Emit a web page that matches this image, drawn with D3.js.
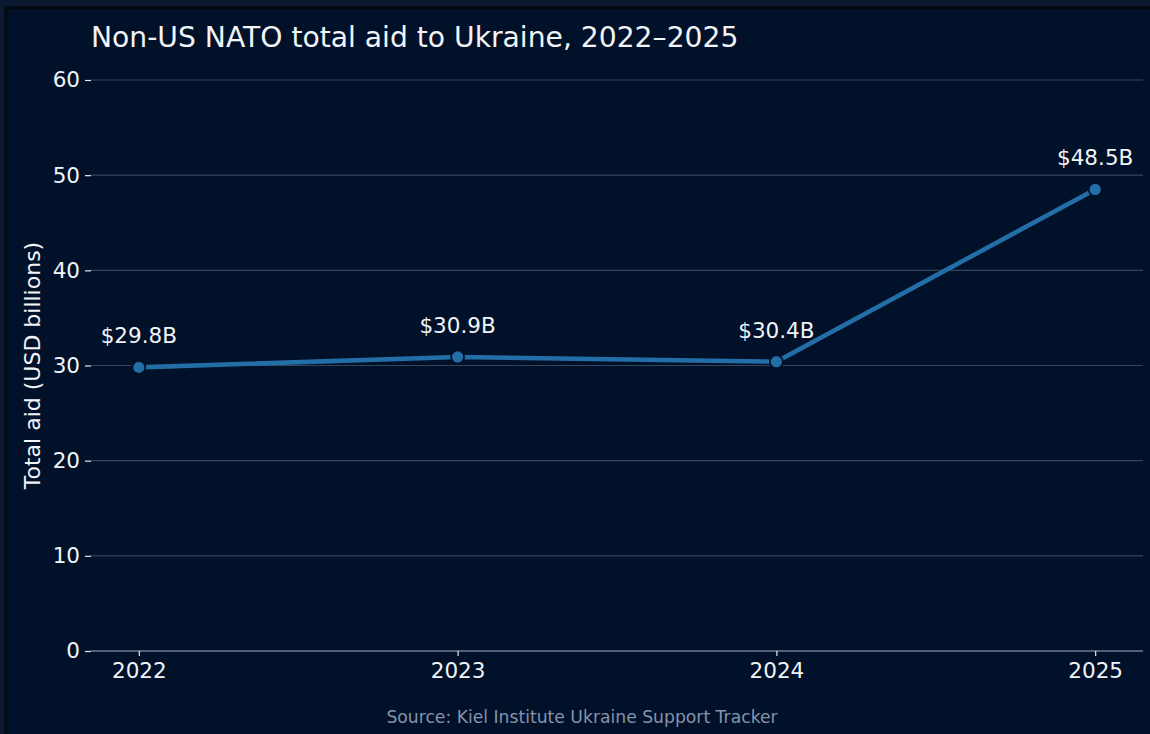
<!DOCTYPE html>
<html>
<head>
<meta charset="utf-8">
<script src="https://cdn.jsdelivr.net/npm/d3@7"></script>
<style>
  html, body { margin: 0; padding: 0; background: #0c1a31; }
  svg { display: block; font-family: "DejaVu Sans", sans-serif; }
</style>
</head>
<body>
<svg id="chart" width="1150" height="734"></svg>
<script>
// Annual totals of non-US NATO aid to Ukraine (USD billions)
const years = [2022, 2023, 2024, 2025];
const totals = [29.8, 30.9, 30.4, 48.5];
const yTicks = [0, 10, 20, 30, 40, 50, 60];
const valueLabels = ["$29.8B", "$30.9B", "$30.4B", "$48.5B"];

const W = 1150, H = 734;
const margin = { left: 91, right: 7, top: 80, bottom: 83 };
const svg = d3.select("#chart");

// Frame: slightly lighter outer band, dark rule, then the chart panel
svg.append("rect").attr("width", W).attr("height", H).attr("fill", "#0c1a31");
const defs = svg.append("defs");
const blur = defs.append("filter").attr("id", "soft").attr("x", "-5%").attr("y", "-5%").attr("width", "110%").attr("height", "110%");
blur.append("feGaussianBlur").attr("stdDeviation", 1);
svg.append("rect").attr("x", 6).attr("y", 8).attr("width", W).attr("height", H)
  .attr("fill", "none").attr("stroke", "#000000").attr("stroke-width", 2.5).attr("filter", "url(#soft)");
svg.append("rect").attr("x", 7.5).attr("y", 9.5).attr("width", W).attr("height", H).attr("fill", "#01112a");

const x = d3.scaleLinear().domain([2021.85, 2025.15]).range([margin.left, W - margin.right]);
const y = d3.scaleLinear().domain([0, 60]).range([H - margin.bottom, margin.top]);

// Horizontal gridlines
svg.append("g").selectAll("line").data(yTicks.filter(t => t > 0)).join("line")
  .attr("x1", x.range()[0]).attr("x2", x.range()[1])
  .attr("y1", d => y(d)).attr("y2", d => y(d))
  .attr("stroke", "#34445b").attr("stroke-width", 1.2);

// Y axis (ticks only, no spine)
const yAxis = svg.append("g").attr("transform", `translate(${margin.left},0)`)
  .call(d3.axisLeft(y).tickValues(yTicks).tickSize(6).tickPadding(5).tickFormat(d3.format("d")));
yAxis.select(".domain").remove();
yAxis.selectAll(".tick line").attr("stroke", "#e6e9ee").attr("stroke-width", 1.2);
yAxis.selectAll(".tick text").attr("fill", "#f2f4f7").attr("font-size", 21.5).attr("font-family", "DejaVu Sans");

// X axis along the baseline
const xAxis = svg.append("g").attr("transform", `translate(0,${y(0)})`)
  .call(d3.axisBottom(x).tickValues(years).tickSize(5).tickPadding(5).tickFormat(d3.format("d")));
xAxis.select(".domain").attr("stroke", "#6b7b90").attr("stroke-width", 1.4)
  .attr("d", `M${x.range()[0]},0H${x.range()[1]}`);
xAxis.selectAll(".tick line").attr("stroke", "#e6e9ee").attr("stroke-width", 1.2);
xAxis.selectAll(".tick text").attr("fill", "#f2f4f7").attr("font-size", 21.5).attr("font-family", "DejaVu Sans")
  .attr("dy", "0.8em");

// Series line and markers
const pts = years.map((yr, i) => ({ yr, v: totals[i], label: valueLabels[i] }));
svg.append("path").datum(pts)
  .attr("fill", "none").attr("stroke", "#236ea6").attr("stroke-width", 4.6)
  .attr("stroke-linejoin", "round")
  .attr("d", d3.line().x(d => x(d.yr)).y(d => y(d.v)));
svg.append("g").selectAll("circle").data(pts).join("circle")
  .attr("cx", d => x(d.yr)).attr("cy", d => y(d.v)).attr("r", 6.5)
  .attr("fill", "#236ea6").attr("stroke", "#01112a").attr("stroke-width", 1.8);

// Value annotations above each point
svg.append("g").selectAll("text").data(pts).join("text")
  .attr("x", d => x(d.yr)).attr("y", d => y(d.v) - 24)
  .attr("text-anchor", "middle").attr("fill", "#f2f4f7").attr("font-size", 21.5)
  .text(d => d.label);

// Title
svg.append("text").attr("x", 91).attr("y", 47)
  .attr("fill", "#f2f4f7").attr("font-size", 28.2).text("Non-US NATO total aid to Ukraine, 2022–2025");

// Y axis title
svg.append("text")
  .attr("transform", `translate(40,${(y(0) + y(60)) / 2}) rotate(-90)`)
  .attr("text-anchor", "middle").attr("fill", "#f2f4f7").attr("font-size", 22)
  .text("Total aid (USD billions)");

// Source note
svg.append("text").attr("x", 582).attr("y", 723).attr("text-anchor", "middle")
  .attr("fill", "#8594aa").attr("font-size", 17.2)
  .text("Source: Kiel Institute Ukraine Support Tracker");
</script>
</body>
</html>
